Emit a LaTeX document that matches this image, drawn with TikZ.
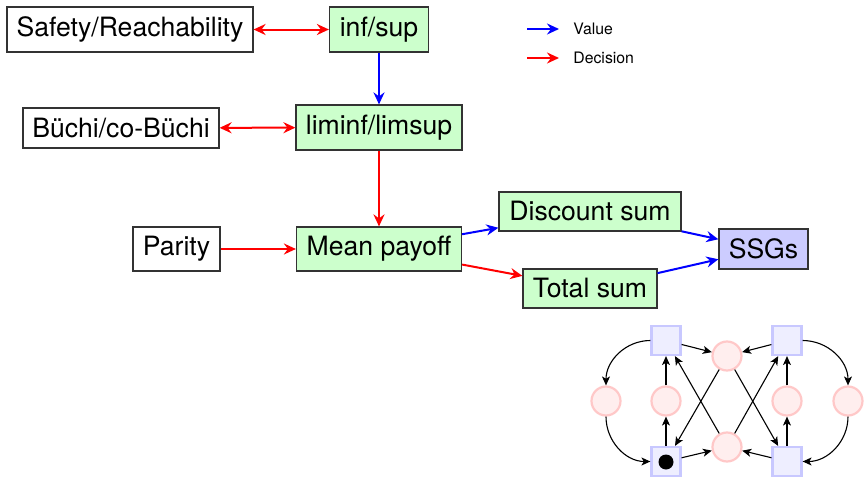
\documentclass[tikz,border=0pt]{standalone}
\usepackage{fontspec}
\setmainfont{TeX Gyre Heros}
\usetikzlibrary{arrows.meta}
\definecolor{nodegreen}{RGB}{204,255,204}
\definecolor{nodeblue}{RGB}{204,204,255}
\definecolor{sqfill}{RGB}{238,238,255}
\definecolor{sqdraw}{RGB}{200,200,255}
\definecolor{cifill}{RGB}{255,238,238}
\definecolor{cidraw}{RGB}{255,200,200}
\tikzset{
  box/.style={draw=black!80,line width=0.6pt,inner sep=0pt,font=\fontsize{13.3pt}{15pt}\selectfont},
  gbox/.style={box,fill=nodegreen},
  bbox/.style={box,fill=nodeblue},
  val/.style={draw=blue,line width=1pt,-{Stealth[length=6pt,width=5.5pt,inset=2pt]}},
  dec/.style={draw=red,line width=1pt,-{Stealth[length=6pt,width=5.5pt,inset=2pt]}},
  decboth/.style={draw=red,line width=1pt,{Stealth[length=6pt,width=5.5pt,inset=2pt]}-{Stealth[length=6pt,width=5.5pt,inset=2pt]}},
  legtext/.style={anchor=west,inner sep=0pt,font=\fontsize{7.9pt}{9pt}\selectfont},
  sq/.style={rectangle,draw=sqdraw,fill=sqfill,line width=1.1pt,minimum size=14.5pt,inner sep=0pt},
  ci/.style={circle,draw=cidraw,fill=cifill,line width=1.1pt,minimum size=14.5pt,inner sep=0pt},
  gedge/.style={draw=black,line width=0.55pt,-{Stealth[length=4.5pt,width=4pt,inset=1.2pt]}}
}
\begin{document}
\begin{tikzpicture}[x=0.5pt,y=-0.5pt]
\useasboundingbox (0,0) rectangle (864,477);
% main nodes
\node[box,minimum width=123pt,minimum height=22.5pt] (safe) at (130,29.5) {Safety/Reachability};
\node[gbox,minimum width=49.5pt,minimum height=22.5pt] (inf) at (379,29.5) {inf/sup};
\node[gbox,minimum width=83pt,minimum height=22.5pt] (lim) at (379,127.5) {liminf/limsup};
\node[box,minimum width=98pt,minimum height=20pt] (buchi) at (121,128) {Büchi/co-Büchi};
\node[box,minimum width=43.5pt,minimum height=22pt] (parity) at (176.5,249) {Parity};
\node[gbox,minimum width=82.5pt,minimum height=22pt] (mean) at (379,249) {Mean payoff};
\node[gbox,minimum width=91pt,minimum height=19.5pt] (disc) at (590,211.5) {Discount sum};
\node[gbox,minimum width=67pt,minimum height=19.5pt] (total) at (590,288.5) {Total sum};
\node[bbox,minimum width=44.5pt,minimum height=20pt] (ssg) at (763.5,249) {SSGs};
% main edges
\draw[decboth] (safe) -- (inf);
\draw[decboth] (buchi) -- (lim);
\draw[val] (inf) -- (lim);
\draw[dec] (lim) -- (mean);
\draw[dec] (parity) -- (mean);
\draw[val] (mean) -- (disc);
\draw[dec] (mean) -- (total);
\draw[val] (disc) -- (ssg);
\draw[val] (total) -- (ssg);
% legend
\coordinate (v1) at (527,29);
\coordinate (v2) at (559,29);
\coordinate (d1) at (527,58);
\coordinate (d2) at (559,58);
\draw[val] (v1) -- (v2);
\draw[dec] (d1) -- (d2);
\node[legtext] (vt) at (573,29) {Value};
\node[legtext] (dt) at (573,58) {Decision};
% small game graph
\node[sq] (TL) at (666,340.5) {};
\node[sq] (TR) at (787,340.5) {};
\node[sq] (BL) at (666,461.5) {};
\node[sq] (BR) at (787,461.5) {};
\node[circle,fill=black,minimum size=7.5pt,inner sep=0pt] (dot) at (666,462) {};
\node[ci] (TM) at (727,356) {};
\node[ci] (BM) at (727,447) {};
\node[ci] (LO) at (606,401) {};
\node[ci] (LI) at (666,401) {};
\node[ci] (RI) at (787,401) {};
\node[ci] (RO) at (848,401) {};
\draw[gedge] (TL) -- (TM);
\draw[gedge] (TR) -- (TM);
\draw[gedge] (BL) -- (BM);
\draw[gedge] (BR) -- (BM);
\draw[gedge] (LI) -- (TL);
\draw[gedge] (BL) -- (LI);
\draw[gedge] (RI) -- (TR);
\draw[gedge] (BR) -- (RI);
\draw[gedge] (BM) -- (TL);
\draw[gedge] (TM) -- (BL);
\draw[gedge] (TM) -- (BR);
\draw[gedge] (BM) -- (TR);
\draw[gedge] (TL) to[out=180,in=90] (LO);
\draw[gedge] (LO) to[out=-90,in=180] (BL);
\draw[gedge] (TR) to[out=0,in=90] (RO);
\draw[gedge] (RO) to[out=-90,in=0] (BR);
\end{tikzpicture}
\end{document}
